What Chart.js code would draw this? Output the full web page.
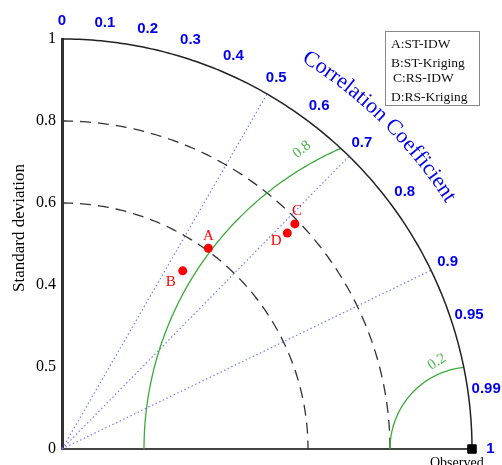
<!DOCTYPE html>
<html>
<head>
<meta charset="utf-8">
<script src="https://cdn.jsdelivr.net/npm/chart.js@4.4.1/dist/chart.umd.min.js"></script>
<style>
  body { margin: 0; background: #fff; }
  #wrap { width: 502px; height: 465px; position: relative; }
</style>
</head>
<body>
<div id="wrap"><canvas id="taylor"></canvas></div>
<script>
// Models (standard deviation and correlation)
const letters = ['A', 'B', 'C', 'D'];
const modelNames = ['ST-IDW', 'ST-Kriging', 'RS-IDW', 'RS-Kriging'];
const stdDev = [0.606, 0.525, 0.790, 0.761];
const corrCoef = [0.589, 0.561, 0.719, 0.722];

// Reference point
const observedStd = 1;

// Axes and guides
const stdTicks = [0, 0.2, 0.4, 0.6, 0.8, 1];
const stdTickLabels = ['0', '0.5', '0.4', '0.6', '0.8', '1'];
const corrTicks = [0, 0.1, 0.2, 0.3, 0.4, 0.5, 0.6, 0.7, 0.8, 0.9, 0.95, 0.99, 1];
const corrLines = [0.5, 0.7, 0.9];
const stdArcs = [0.6, 0.8];
const rmsArcs = [0.8, 0.2];

const serif = '"Liberation Serif", "Times New Roman", serif';
const sans = '"Liberation Sans", Arial, sans-serif';

// polar (std, corr) -> cartesian data coords
function toXY(s, c) {
    return { x: s * c, y: s * Math.sqrt(1 - c * c) };
}

function px(chart, x, y) {
    return [chart.scales.x.getPixelForValue(x), chart.scales.y.getPixelForValue(y)];
}

function arcPath(ctx, chart, cx, cy, r, a0, a1) {
    const n = 150;
    ctx.beginPath();
    for (let i = 0; i <= n; i++) {
        const a = a0 + (a1 - a0) * i / n;
        const [X, Y] = px(chart, cx + r * Math.cos(a), cy + r * Math.sin(a));
        if (i === 0) ctx.moveTo(X, Y); else ctx.lineTo(X, Y);
    }
    ctx.stroke();
}

const taylorGrid = {
    id: 'taylorGrid',
    beforeDatasetsDraw(chart) {
        const ctx = chart.ctx;
        ctx.save();

        // correlation rays
        ctx.strokeStyle = '#7b7bff';
        ctx.lineWidth = 1.2;
        ctx.setLineDash([1.5, 2.5]);
        corrLines.forEach(c => {
            const p = toXY(observedStd, c);
            const [x0, y0] = px(chart, 0, 0);
            const [x1, y1] = px(chart, p.x, p.y);
            ctx.beginPath();
            ctx.moveTo(x0, y0);
            ctx.lineTo(x1, y1);
            ctx.stroke();
        });

        // std dev arcs
        ctx.strokeStyle = '#333';
        ctx.lineWidth = 1.3;
        ctx.setLineDash([11, 7]);
        stdArcs.forEach(r => arcPath(ctx, chart, 0, 0, r, Math.PI / 2, 0));

        // RMS arcs around the observed point
        ctx.setLineDash([]);
        ctx.strokeStyle = '#3aaa3a';
        ctx.lineWidth = 1.3;
        rmsArcs.forEach(r => {
            const xi = observedStd - r * r / (2 * observedStd);
            const yi = Math.sqrt(observedStd * observedStd - xi * xi);
            const aEnd = Math.atan2(yi, xi - observedStd);
            arcPath(ctx, chart, observedStd, 0, r, Math.PI, aEnd);
        });

        // outer arc
        ctx.strokeStyle = '#222';
        ctx.lineWidth = 1.5;
        arcPath(ctx, chart, 0, 0, observedStd, Math.PI / 2, 0);

        ctx.restore();
    },
    afterDatasetsDraw(chart) {
        const ctx = chart.ctx;
        const unit = chart.scales.x.getPixelForValue(1) - chart.scales.x.getPixelForValue(0);
        ctx.save();

        // correlation tick labels
        ctx.fillStyle = '#0000ee';
        ctx.font = 'bold 15px ' + sans;
        ctx.textAlign = 'center';
        ctx.textBaseline = 'middle';
        corrTicks.forEach(c => {
            const p = toXY(1.045, c);
            const [X, Y] = px(chart, p.x, p.y);
            ctx.fillText(String(c), X, Y);
        });

        // curved title
        ctx.font = '22px ' + serif;
        ctx.textBaseline = 'alphabetic';
        const title = 'Correlation Coefficient';
        const R = 1.112;
        const rPx = R * unit;
        let a = 45.5 * Math.PI / 180 + ctx.measureText(title).width / rPx / 2;
        for (const ch of title) {
            const w = ctx.measureText(ch).width;
            const mid = a - w / 2 / rPx;
            const [X, Y] = px(chart, R * Math.cos(mid), R * Math.sin(mid));
            ctx.save();
            ctx.translate(X, Y);
            ctx.rotate(Math.PI / 2 - mid);
            ctx.fillText(ch, 0, 0);
            ctx.restore();
            a -= w / rPx;
        }

        // RMS labels
        ctx.fillStyle = '#4cb84c';
        ctx.font = '15px ' + serif;
        ctx.textBaseline = 'middle';
        const rmsLabelPos = [[0.84, 119.6, -38], [0.229, 111.9, -33]];
        rmsArcs.forEach((r, i) => {
            const [rr, deg, rot] = rmsLabelPos[i];
            const t = deg * Math.PI / 180;
            const [X, Y] = px(chart, observedStd + rr * Math.cos(t), rr * Math.sin(t));
            ctx.save();
            ctx.translate(X, Y);
            ctx.rotate(rot * Math.PI / 180);
            ctx.fillText(String(r), 0, 0);
            ctx.restore();
        });

        // point letters
        ctx.fillStyle = '#ff0000';
        ctx.font = '15px ' + serif;
        const offs = [[0, -12], [-12, 11], [2, -13], [-11, 8]];
        letters.forEach((l, i) => {
            const p = toXY(stdDev[i], corrCoef[i]);
            const [X, Y] = px(chart, p.x, p.y);
            ctx.fillText(l, X + offs[i][0], Y + offs[i][1]);
        });

        // y title
        ctx.fillStyle = '#000';
        ctx.font = '17px ' + serif;
        ctx.save();
        ctx.translate(19.5, 228);
        ctx.rotate(-Math.PI / 2);
        ctx.fillText('Standard deviation', 0, 0);
        ctx.restore();

        // Observed
        ctx.textBaseline = 'alphabetic';
        ctx.textAlign = 'left';
        ctx.font = '14px ' + serif;
        ctx.fillText('Observed', 430, 467);

        // legend box
        ctx.strokeStyle = '#888';
        ctx.lineWidth = 1;
        ctx.strokeRect(385.5, 31.5, 94, 74);
        ctx.font = '13.5px ' + serif;
        ctx.fillStyle = '#111';
        const rowY = [47.5, 66.5, 82, 100.5];
        letters.forEach((l, i) => {
            ctx.fillText(l + ':' + modelNames[i], i === 2 ? 393 : 391, rowY[i]);
        });

        ctx.restore();
    }
};

new Chart(document.getElementById('taylor'), {
    type: 'scatter',
    data: {
        datasets: [{
            label: 'Models',
            data: stdDev.map((s, i) => toXY(s, corrCoef[i])),
            backgroundColor: '#ff0000',
            borderWidth: 0,
            pointRadius: 4.5
        }, {
            label: 'Observed',
            data: [{ x: observedStd, y: 0 }],
            backgroundColor: '#000',
            borderColor: '#000',
            pointStyle: 'rect',
            pointRadius: 6,
            clip: false
        }]
    },
    options: {
        responsive: true,
        maintainAspectRatio: false,
        animation: false,
        layout: { padding: { top: 39, right: 30, bottom: 16, left: 0 } },
        plugins: { legend: { display: false }, tooltip: { enabled: false } },
        scales: {
            x: {
                min: 0, max: 1,
                grid: { display: false },
                ticks: { display: false },
                border: { display: true, color: '#444', width: 2 },
                afterFit: s => { s.height = 0; }
            },
            y: {
                min: 0, max: 1,
                grid: { display: false, drawTicks: false },
                border: { display: true, color: '#333', width: 3 },
                afterBuildTicks: s => { s.ticks = stdTicks.map(v => ({ value: v })); },
                ticks: {
                    padding: 6,
                    color: '#000',
                    font: { family: serif, size: 16 },
                    callback: (v, i) => stdTickLabels[i]
                },
                afterFit: s => { s.width = 62; }
            }
        }
    },
    plugins: [taylorGrid]
});
</script>
</body>
</html>
